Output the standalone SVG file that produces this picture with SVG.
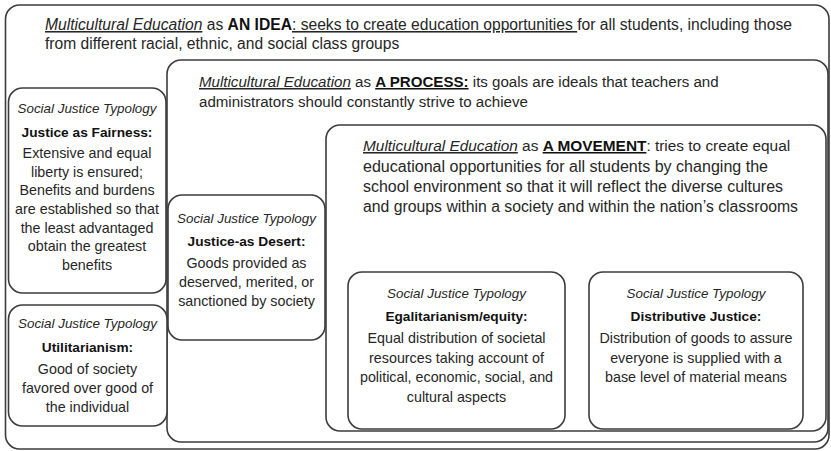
<svg xmlns="http://www.w3.org/2000/svg" width="831" height="451" viewBox="0 0 831 451">
<style>
.box{fill:#fff;stroke:#3c3c3c;stroke-width:1.6}
text{font-family:"Liberation Sans",Arial,sans-serif;fill:#262626}
.p{font-size:15.1px}
.m{font-size:15.8px}
.top{font-size:15.6px}
.i{font-style:italic}
.bd{font-weight:bold;fill:#111}
.u{text-decoration:underline}
.h{font-style:italic;font-size:13.4px;text-anchor:middle}
.b{font-weight:bold;font-size:13.7px;text-anchor:middle;fill:#111}
.d{font-size:14.3px;text-anchor:middle}
</style>
<rect width="831" height="451" fill="#fff"/>
<g id="idea">
<rect class="box" x="5.5" y="5" width="823.5" height="444" rx="14"/>
<text class="top" x="45" y="30" textLength="747" lengthAdjust="spacingAndGlyphs"><tspan class="i u">Multicultural Education</tspan> as <tspan class="bd">AN IDEA</tspan><tspan class="u">: seeks to create education opportunities </tspan>for all students, including those</text>
<text class="top" x="45" y="49">from different racial, ethnic, and social class groups</text>
</g>
<g id="process">
<rect class="box" x="167" y="60" width="661" height="382" rx="14"/>
<text class="p" x="199" y="87"><tspan class="i u">Multicultural Education</tspan> as <tspan class="bd u">A PROCESS:</tspan> its goals are ideals that teachers and</text>
<text class="p" x="199" y="107">administrators should constantly strive to achieve</text>
</g>
<g id="movement">
<rect class="box" x="326" y="125" width="500" height="306" rx="14"/>
<text class="m" x="363" y="151" style="font-size:15.4px"><tspan class="i u">Multicultural Education</tspan> as <tspan class="bd u">A MOVEMENT</tspan>: tries to create equal</text>
<text class="m" x="363" y="172" textLength="405" lengthAdjust="spacingAndGlyphs">educational opportunities for all students by changing the</text>
<text class="m" x="363" y="192" textLength="420" lengthAdjust="spacingAndGlyphs">school environment so that it will reflect the diverse cultures</text>
<text class="m" x="363" y="212" textLength="435" lengthAdjust="spacingAndGlyphs">and groups within a society and within the nation’s classrooms</text>
</g>
<g id="fairness">
<rect class="box" x="8.5" y="88" width="157.5" height="205" rx="14"/>
<text class="h" x="87" y="113">Social Justice Typology</text>
<text class="b" x="87" y="137">Justice as Fairness:</text>
<text class="d" x="87" y="158">Extensive and equal</text>
<text class="d" x="87" y="177">liberty is ensured;</text>
<text class="d" x="87" y="195">Benefits and burdens</text>
<text class="d" x="87" y="214">are established so that</text>
<text class="d" x="87" y="233">the least advantaged</text>
<text class="d" x="87" y="251">obtain the greatest</text>
<text class="d" x="87" y="270">benefits</text>
</g>
<g id="utilitarianism">
<rect class="box" x="8.5" y="305" width="158.5" height="121" rx="14"/>
<text class="h" x="87.5" y="328">Social Justice Typology</text>
<text class="b" x="87.5" y="352">Utilitarianism:</text>
<text class="d" x="87.5" y="374">Good of society</text>
<text class="d" x="87.5" y="393">favored over good of</text>
<text class="d" x="87.5" y="412">the individual</text>
</g>
<g id="desert">
<rect class="box" x="168" y="195" width="157" height="145" rx="14"/>
<text class="h" x="246.5" y="223">Social Justice Typology</text>
<text class="b" x="246.5" y="246">Justice-as Desert:</text>
<text class="d" x="246.5" y="268">Goods provided as</text>
<text class="d" x="246.5" y="287">deserved, merited, or</text>
<text class="d" x="246.5" y="306">sanctioned by society</text>
</g>
<g id="egalitarianism">
<rect class="box" x="348" y="272" width="217" height="157" rx="14"/>
<text class="h" x="456.5" y="298">Social Justice Typology</text>
<text class="b" x="456.5" y="321">Egalitarianism/equity:</text>
<text class="d" x="456.5" y="343">Equal distribution of societal</text>
<text class="d" x="456.5" y="363">resources taking account of</text>
<text class="d" x="456.5" y="382">political, economic, social, and</text>
<text class="d" x="456.5" y="402">cultural aspects</text>
</g>
<g id="distributive">
<rect class="box" x="589" y="272" width="214" height="157" rx="14"/>
<text class="h" x="696" y="298">Social Justice Typology</text>
<text class="b" x="696" y="321">Distributive Justice:</text>
<text class="d" x="696" y="343">Distribution of goods to assure</text>
<text class="d" x="696" y="363">everyone is supplied with a</text>
<text class="d" x="696" y="382">base level of material means</text>
</g>
<g id="connectors"></g>
</svg>
